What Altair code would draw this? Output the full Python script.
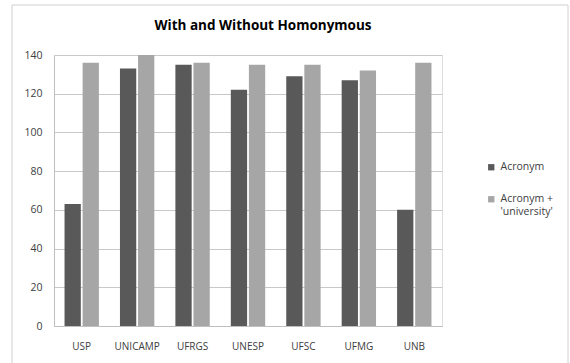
import altair as alt
import pandas as pd

universities = ["USP", "UNICAMP", "UFRGS", "UNESP", "UFSC", "UFMG", "UNB"]
acronym = [63, 133, 135, 122, 129, 127, 60]
acronym_univ = [136, 140, 136, 135, 135, 132, 136]
series = ["Acronym", "Acronym +\n'university'"]
colors = ["#595959", "#A6A6A6"]
title_text = ["With and Without Homonymous"]

rows = []
for u, a, b in zip(universities, acronym, acronym_univ):
    rows.append({"uni": u, "series": series[0], "value": a})
    rows.append({"uni": u, "series": series[1], "value": b})
df = pd.DataFrame(rows)

FONT = "Open Sans"

bars = alt.Chart(df).mark_bar().encode(
    x=alt.X("uni:N", sort=universities,
            scale=alt.Scale(paddingInner=0.38, paddingOuter=0.19),
            axis=alt.Axis(title=None, labelAngle=0, ticks=False, domain=True,
                          domainColor="#BFBFBF", labelPadding=15,
                          labelFont=FONT, labelFontSize=10, labelColor="#404040")),
    xOffset=alt.XOffset("series:N", sort=series,
                        scale=alt.Scale(paddingInner=0.1)),
    y=alt.Y("value:Q", scale=alt.Scale(domain=[0, 140], nice=False),
            axis=alt.Axis(title=None, values=list(range(0, 141, 20)), ticks=False,
                          domain=True, domainColor="#BFBFBF", gridColor="#C8C8C8",
                          labelPadding=12, labelFont=FONT, labelFontSize=10.5,
                          labelColor="#404040")),
    color=alt.Color("series:N", sort=series,
                    scale=alt.Scale(domain=series, range=colors),
                    legend=alt.Legend(title=None, orient="none", legendX=432,
                                      legendY=107, symbolType="square", symbolSize=40,
                                      labelFont=FONT, labelFontSize=10.5,
                                      labelColor="#404040", rowPadding=21,
                                      labelExpr="split(datum.label, '\\n')")),
)

frame = alt.Chart(pd.DataFrame({"k": [0]})).mark_rect(
    fill=None, stroke="#D0D0D0", strokeWidth=1
).encode(x=alt.value(-42), x2=alt.value(514), y=alt.value(-50), y2=alt.value(320))

title = alt.Chart(pd.DataFrame({"t": title_text})).mark_text(
    font=FONT, fontSize=13.5, fontWeight="bold", color="#000000",
    align="center", baseline="middle"
).encode(text="t:N", x=alt.value(209), y=alt.value(-29))

chart = alt.layer(frame, bars, title).properties(
    width=388, height=271,
    autosize=alt.AutoSizeParams(type="none"),
    padding={"left": 54, "top": 55, "right": 128, "bottom": 37},
).configure_view(stroke=None).configure(background="white")

chart.save("out.html", embed_options={"renderer": "svg", "actions": False})
